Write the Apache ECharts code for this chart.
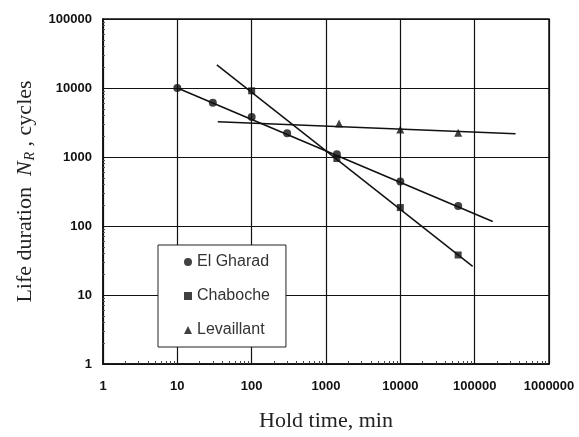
<!DOCTYPE html>
<html>
<head>
<meta charset="utf-8">
<script src="https://cdn.jsdelivr.net/npm/echarts@6/dist/echarts.min.js"></script>
<style>
  html, body { margin: 0; padding: 0; background: #fff; }
  #main { width: 579px; height: 437px; }
</style>
</head>
<body>
<div id="main"></div>
<script>
// measured points (hold time in min, life in cycles)
var elGharad = [[10, 10000], [30, 6100], [100, 3800], [300, 2200], [1400, 1100], [10000, 440], [60000, 195]];
var chaboche = [[100, 9100], [1400, 950], [10000, 185], [60000, 38]];
var levaillant = [[1500, 3050], [10000, 2500], [60000, 2250]];

// fitted lines (end points)
var elGharadFit = [[10, 10000], [175000, 116]];
var chabocheFit = [[34, 21600], [94000, 26]];
var levaillantFit = [[35, 3250], [355000, 2180]];

var legendNames = ['El Gharad', 'Chaboche', 'Levaillant'];
var minorSteps = [2, 3, 4, 5, 6, 7, 8, 9];
var xDecades = [1, 10, 100, 1000, 10000, 100000];
var yDecades = [1, 10, 100, 1000, 10000];

function minorTicks(decades) {
  var out = [];
  decades.forEach(function (d) {
    minorSteps.forEach(function (m) { out.push(d * m); });
  });
  return out;
}

var labelFont = { fontFamily: 'Liberation Sans, Arial, sans-serif', fontSize: 13, fontWeight: 'bold', color: '#111' };
var serif = 'Liberation Serif, Times New Roman, serif';

var myChart = echarts.init(document.getElementById('main'));

function fitLine(name, data) {
  return {
    name: name + ' fit', type: 'line', data: data, symbol: 'none', silent: true,
    lineStyle: { color: '#111', width: 1.5 }, z: 3
  };
}

function points(name, symbol, size, data) {
  return {
    name: name, type: 'scatter', data: data, symbol: symbol, symbolSize: size,
    itemStyle: { color: '#111' }, z: 4
  };
}

myChart.setOption({
  backgroundColor: '#fff',
  animation: false,
  grid: { left: 103, right: 30, top: 19, bottom: 72, show: true, borderColor: '#111', borderWidth: 1.5 },
  legend: {
    data: legendNames,
    orient: 'vertical',
    left: 158, top: 245,
    padding: [9, 16, 9, 26],
    itemGap: 18,
    itemWidth: 8, itemHeight: 8,
    backgroundColor: '#fff',
    borderColor: '#222', borderWidth: 1,
    textStyle: { fontFamily: 'Liberation Sans, Arial, sans-serif', fontSize: 16, color: '#333', lineHeight: 16 }
  },
  xAxis: [{
    type: 'log', logBase: 10, min: 1, max: 1000000,
    name: 'Hold time, min', nameLocation: 'middle', nameGap: 46,
    nameTextStyle: { fontFamily: serif, fontSize: 22, color: '#222' },
    axisLine: { lineStyle: { color: '#111', width: 1.5 } },
    axisTick: { inside: true, length: 6, lineStyle: { color: '#111' } },
    axisLabel: Object.assign({ margin: 16, formatter: function (v) { return String(Math.round(v)); } }, labelFont),
    splitLine: { show: true, lineStyle: { color: '#111', width: 1.2 } }
  }, {
    type: 'log', logBase: 10, min: 1, max: 1000000, position: 'bottom',
    axisLine: { show: false },
    axisLabel: { show: false },
    splitLine: { show: false },
    axisTick: { show: true, inside: true, length: 3, customValues: minorTicks(xDecades), lineStyle: { color: '#444' } }
  }],
  yAxis: [{
    type: 'log', logBase: 10, min: 1, max: 100000,
    name: '{a|Life duration  }{n|N}{s|R}{a| , cycles}', nameLocation: 'middle', nameGap: 62,
    nameTextStyle: {
      color: '#222',
      rich: {
        a: { fontFamily: serif, fontSize: 22, color: '#222' },
        n: { fontFamily: serif, fontSize: 22, fontStyle: 'italic', color: '#222' },
        s: { fontFamily: serif, fontSize: 14, fontStyle: 'italic', color: '#222', verticalAlign: 'bottom', padding: [12, 0, 0, 1] }
      }
    },
    axisLine: { lineStyle: { color: '#111', width: 1.5 } },
    axisTick: { show: false },
    axisLabel: Object.assign({ margin: 11, formatter: function (v) { return String(Math.round(v)); } }, labelFont),
    splitLine: { show: true, lineStyle: { color: '#111', width: 1.2 } }
  }, {
    type: 'log', logBase: 10, min: 1, max: 100000, position: 'left',
    axisLine: { show: false },
    axisLabel: { show: false },
    splitLine: { show: false },
    axisTick: { show: true, inside: true, length: 2, customValues: minorTicks(yDecades), lineStyle: { color: '#555' } }
  }],
  series: [
    fitLine('El Gharad', elGharadFit),
    fitLine('Chaboche', chabocheFit),
    fitLine('Levaillant', levaillantFit),
    points('El Gharad', 'circle', 8, elGharad),
    points('Chaboche', 'rect', 7, chaboche),
    points('Levaillant', 'triangle', 8, levaillant)
  ]
});
</script>
</body>
</html>
